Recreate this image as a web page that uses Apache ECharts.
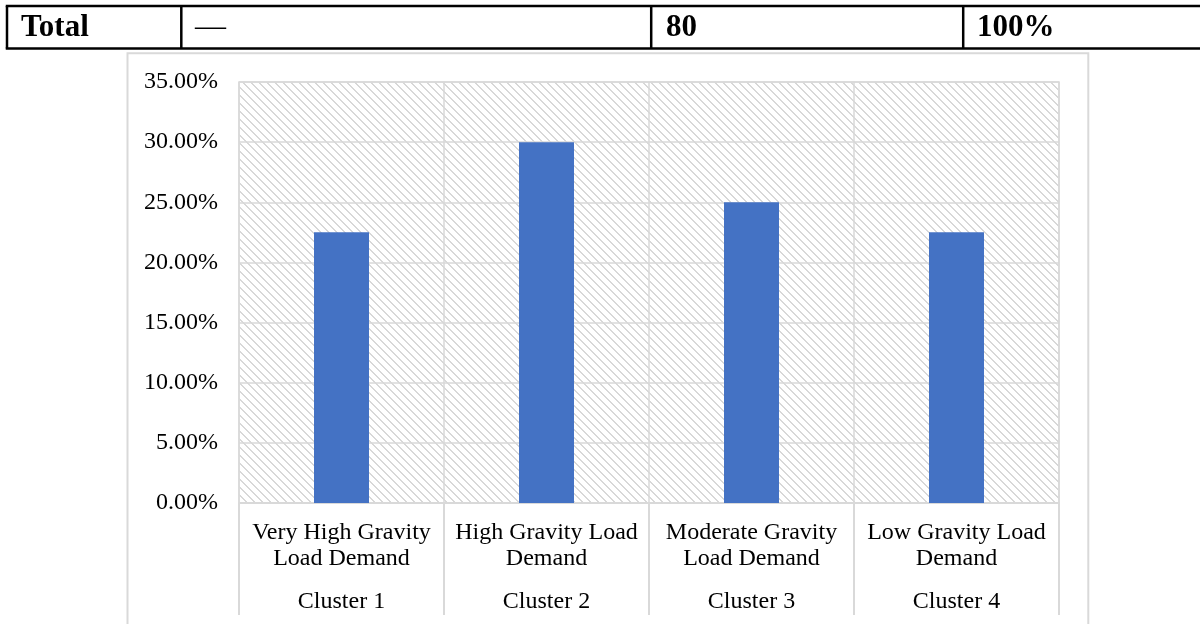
<!DOCTYPE html>
<html>
<head>
<meta charset="utf-8">
<script src="https://cdn.jsdelivr.net/npm/echarts@6/dist/echarts.min.js"></script>
<style>
  html, body { margin: 0; padding: 0; background: #ffffff; }
  #chart { width: 1200px; height: 624px; }
</style>
</head>
<body>
<div id="chart"></div>
<script>
// Category labels (inner level) and cluster names (outer level)
const categories = [
  'Very High Gravity\nLoad Demand',
  'High Gravity Load\nDemand',
  'Moderate Gravity\nLoad Demand',
  'Low Gravity Load\nDemand'
];
const clusters = ['Cluster 1', 'Cluster 2', 'Cluster 3', 'Cluster 4'];
// Share of records in each cluster
const shares = [0.225, 0.30, 0.25, 0.225];
// Value axis range and step
const yMin = 0;
const yMax = 0.35;
const yStep = 0.05;
// Last row of the summary table shown above the chart
const totalRow = ['Total', '\u2014', '80', '100%'];

const SERIF = '"Liberation Serif", "Times New Roman", serif';
const GRID_LINE = '#d9d9d9';

// Small tile with a downward diagonal stripe used to fill the plot area
function hatchTile() {
  const c = document.createElement('canvas');
  c.width = 8; c.height = 8;
  const g = c.getContext('2d');
  g.fillStyle = '#ffffff';
  g.fillRect(0, 0, 8, 8);
  g.fillStyle = '#d8d8d8';
  for (let y = 0; y < 8; y++) {
    g.fillRect(y % 8, y, 1, 1);
    g.fillRect((y + 1) % 8, y, 1, 1);
  }
  return c;
}

// Summary table: horizontal rules, column rules, and cell texts
const tableTop = 6, tableBottom = 48.5;
const colRules = [7, 181.3, 651.2, 963.2];
const cellTextX = [21, 195, 666, 977];
const tableGraphics = [];
[tableTop, tableBottom].forEach(y => tableGraphics.push({
  type: 'line', silent: true,
  shape: { x1: colRules[0] - 1.25, y1: y, x2: 1200, y2: y },
  style: { stroke: '#000', lineWidth: 2.5 }
}));
[0, 1, 2, 3].forEach(i => tableGraphics.push({
  type: 'line', silent: true,
  shape: { x1: colRules[i], y1: tableTop, x2: colRules[i], y2: tableBottom },
  style: { stroke: '#000', lineWidth: 2.5 }
}));
totalRow.forEach((t, i) => tableGraphics.push({
  type: 'text', silent: true,
  x: cellTextX[i], y: 28,
  style: {
    text: t,
    font: (i === 1 ? 'normal ' : 'bold ') + '31px ' + SERIF,
    fill: '#000',
    textAlign: 'left',
    textVerticalAlign: 'middle'
  }
}));

const chart = echarts.init(document.getElementById('chart'), null, { renderer: 'canvas' });

chart.setOption({
  animation: false,
  backgroundColor: '#ffffff',
  graphic: [
    {
      type: 'rect', silent: true, z: -10,
      shape: { x: 127.5, y: 53.3, width: 960.8, height: 620 },
      style: { fill: 'none', stroke: GRID_LINE, lineWidth: 2 }
    }
  ].concat(tableGraphics),
  grid: {
    left: 239, top: 82, width: 820, height: 421,
    show: true,
    backgroundColor: { image: hatchTile(), repeat: 'repeat' },
    borderColor: GRID_LINE,
    borderWidth: 1.5
  },
  xAxis: [
    {
      type: 'category',
      data: categories,
      position: 'bottom',
      axisLine: { show: true, lineStyle: { color: GRID_LINE, width: 1.5 } },
      axisTick: { show: true, length: 112, interval: 0, lineStyle: { color: GRID_LINE, width: 2 } },
      splitLine: { show: true, interval: 0, lineStyle: { color: GRID_LINE, width: 1.5 } },
      axisLabel: {
        interval: 0, margin: 17,
        fontFamily: SERIF, fontSize: 24, lineHeight: 26, color: '#000'
      }
    },
    {
      type: 'category',
      data: clusters,
      position: 'bottom',
      axisLine: { show: false },
      axisTick: { show: false },
      splitLine: { show: false },
      axisLabel: {
        interval: 0, margin: 86,
        fontFamily: SERIF, fontSize: 24, lineHeight: 26, color: '#000'
      }
    }
  ],
  yAxis: {
    type: 'value',
    min: yMin, max: yMax, interval: yStep,
    axisLine: { show: false },
    axisTick: { show: false },
    splitLine: { show: true, lineStyle: { color: GRID_LINE, width: 1.5 } },
    axisLabel: {
      margin: 21,
      fontFamily: SERIF, fontSize: 24, color: '#000',
      formatter: v => (v * 100).toFixed(2) + '%'
    }
  },
  series: [
    {
      type: 'bar',
      xAxisIndex: 0,
      data: shares,
      barWidth: 55,
      itemStyle: { color: '#4472C4' }
    }
  ]
});
</script>
</body>
</html>
